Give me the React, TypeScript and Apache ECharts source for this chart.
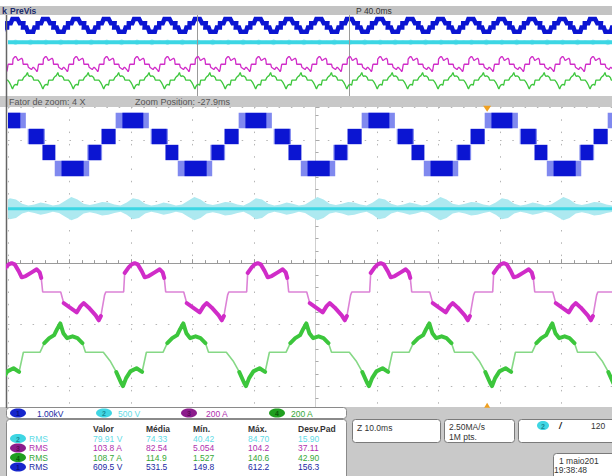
import React, { useEffect, useRef } from "react";
import * as echarts from "echarts";

// ---------- time / division geometry (ms, divisions) ----------
const PERIOD = 20; // ms, 50 Hz fundamental
const MAIN_X = [-50, 48.2];
const PREV_X = [-174.3, 223.1];
const MAIN_Y = [-2.34, 2.54];
const PREV_Y = [-2.43, 2.57];
const ZOOM_WINDOW = [-50, 50];
const TRIGGER_T = 27.9;

// ---------- channel 1 (blue) staircase, one period ----------
const BLUE_PHASE = 10.3; // time of a top plateau centre
const BLUE_LEVELS = [2.32, 2.06, 1.8, 1.54];
// [start ms, end ms, level index] relative to the top centre
const BLUE_DARK = [
  [-1.7, 1.7, 0],
  [3.1, 5.5, 1],
  [5.3, 7.4, 2],
  [8.4, 12.0, 3],
  [12.8, 14.8, 2],
  [14.9, 17.2, 1],
];
const BLUE_LIGHT = [
  [-2.8, 2.6, 0],
  [2.9, 5.7, 1],
  [12.6, 15.0, 2],
  [7.3, 12.9, 3],
];

// ---------- channel 2 (cyan) ----------
const CYAN_PHASE = 10.3;
const CYAN_BASE = 0.886;
// envelope half-height (div) at 1 ms steps over one period
const CYAN_ENV = [0.17, 0.15, 0.08, 0.05, 0.07, 0.1, 0.08, 0.05, 0.07, 0.13, 0.19, 0.15, 0.08, 0.06, 0.08, 0.11, 0.1, 0.07, 0.05, 0.1];

// ---------- channel 3 (magenta), one period relative to its peak: [ms, div, noisy] ----------
const MAGENTA_PHASE = 10.6;
const MAGENTA_SHAPE = [
  [-1.63, -0.16, 1], [-0.98, -0.07, 1], [-0.49, -0.02, 1], [0, 0, 1], [0.49, -0.02, 1], [1.14, -0.13, 1],
  [1.63, -0.23, 1], [2.28, -0.21, 1], [3.25, -0.15, 1], [4.07, -0.1, 1], [4.55, -0.15, 1], [4.8, -0.24, 1],
  [5.04, -0.47, 0], [7.97, -0.47, 0], [8.46, -0.65, 1], [9.6, -0.73, 1], [10.57, -0.8, 1], [11.2, -0.7, 1],
  [11.7, -0.65, 1], [12.5, -0.72, 1], [13.66, -0.85, 1], [14.15, -0.93, 1], [14.5, -0.86, 1], [15.1, -0.52, 0],
  [15.3, -0.47, 0], [18.2, -0.47, 0],
];

// ---------- channel 4 (green), one period relative to its peak: [ms, div, noisy] ----------
const GREEN_PHASE = 18.5;
const GREEN_SHAPE = [
  [0, -0.98, 1], [0.5, -1.14, 1], [1.1, -1.22, 1], [2.0, -1.19, 1], [2.8, -1.22, 1], [3.6, -1.3, 1],
  [4.1, -1.45, 0], [7.0, -1.45, 0], [8.1, -1.59, 0], [9.1, -1.77, 1], [9.9, -1.95, 1], [10.2, -2.0, 1],
  [10.7, -1.87, 1], [11.4, -1.76, 1], [12.4, -1.71, 1], [13.3, -1.77, 1], [14.0, -1.45, 0], [16.7, -1.45, 0],
  [17.4, -1.3, 1], [18.2, -1.22, 1], [19.0, -1.17, 1], [19.5, -1.07, 1],
];

// ---------- texts ----------
const CH_BADGES = ["1", "2", "3", "4"];
const CH_SCALES = ["1.00kV", "500 V", "200 A", "200 A"];
const TABLE_HEAD = ["Valor", "Média", "Mín.", "Máx.", "Desv.Pad"];
const ROW_CH = [1, 2, 3, 0]; // index into channel colours
const ROW_LABEL = ["RMS", "RMS", "RMS", "RMS"];
const ROW_VALUES = [
  ["79.91 V", "74.33", "40.42", "84.70", "15.90"],
  ["103.8 A", "82.54", "5.054", "104.2", "37.11"],
  ["108.7 A", "114.9", "1.527", "140.6", "42.90"],
  ["609.5 V", "531.5", "149.8", "612.2", "156.3"],
];
const TIMEBASE = "Z 10.0ms";
const SAMPLE_RATE = ["2.50MA/s", "1M pts."];
const TRIG_LEVEL = "120";
const DATE_LINES = ["1 maio201", "19:38:48"];

const C_BLUE = "#0b15d2";
const C_BLUE_L = "#8089ef";
const C_CYAN = "#3cd6e4";
const C_CYAN_BAND = "#ade9f0";
const C_MAG = "#d02cc8";
const C_MAG_THIN = "#dc82d6";
const C_GREEN = "#3cc63c";
const C_GREEN_THIN = "#86d886";
const CH_FILL = ["#1626cc", "#3fd6e3", "#8c1c8c", "#1f9e1f"];
const CH_TEXT = ["#1b2aa3", "#5fdbe6", "#b02fae", "#36a836"];
const CH_BADGE_TXT = ["#0a1280", "#188a94", "#5a0a5a", "#0a5a0a"];

function periods(phase: number, range: number[]) {
  const k0 = Math.floor((range[0] - phase) / PERIOD) - 1;
  const k1 = Math.ceil((range[1] - phase) / PERIOD) + 1;
  const out: number[] = [];
  for (let k = k0; k <= k1; k++) out.push(phase + k * PERIOD);
  return out;
}
function tileShape(shape: number[][], phase: number, range: number[]) {
  const out: number[][] = [];
  for (const o of periods(phase, range)) for (const p of shape) out.push([o + p[0], p[1]]);
  return out;
}
function tileNoisy(shape: number[][], phase: number, range: number[]) {
  const out: any[] = [];
  for (const o of periods(phase, range))
    for (const p of shape) out.push(p[2] ? [o + p[0], p[1]] : [o + p[0], "-"]);
  return out;
}
function tileBlocks(blocks: number[][], range: number[]) {
  const out: number[][] = [];
  for (const o of periods(BLUE_PHASE, range))
    for (const b of blocks) out.push([o + b[0], o + b[1], BLUE_LEVELS[b[2]]]);
  return out;
}
function tileBlockLine(range: number[]) {
  const out: number[][] = [];
  for (const o of periods(BLUE_PHASE, range))
    for (const b of BLUE_DARK) {
      out.push([o + b[0], BLUE_LEVELS[b[2]]]);
      out.push([o + b[1], BLUE_LEVELS[b[2]]]);
    }
  return out;
}
function tileEnv(range: number[]) {
  const out: number[][] = [];
  for (const o of periods(CYAN_PHASE, range)) CYAN_ENV.forEach((a, i) => out.push([o + i, a]));
  return out;
}

const blockRender = (half: number) => (_p: any, api: any) => {
  const a = api.coord([api.value(0), api.value(2) + half]);
  const b = api.coord([api.value(1), api.value(2) - half]);
  return {
    type: "rect",
    shape: { x: a[0], y: a[1], width: b[0] - a[0], height: b[1] - a[1] },
    style: { fill: api.visual("color") },
  };
};
const bandRender = (env: number[][]) => (_p: any, api: any) => {
  const up = env.map((e) => api.coord([e[0], CYAN_BASE + e[1]]));
  const dn = env.slice().reverse().map((e) => api.coord([e[0], CYAN_BASE - e[1]]));
  return { type: "polygon", shape: { points: up.concat(dn) }, style: { fill: C_CYAN_BAND } };
};

const lineBase = (idx: number) => ({
  type: "line", xAxisIndex: idx, yAxisIndex: idx, showSymbol: false, silent: true, connectNulls: false,
});

function previewSeries() {
  const r = PREV_X;
  return [
    { ...lineBase(0), data: tileBlockLine(r), lineStyle: { color: C_BLUE, width: 4.5, join: "miter" }, z: 4 },
    {
      type: "custom", xAxisIndex: 0, yAxisIndex: 0, clip: true, silent: true,
      data: [[0, CYAN_BASE]], renderItem: bandRender(tileEnv(r)), z: 3,
    },
    {
      ...lineBase(0), data: [[r[0], CYAN_BASE], [r[1], CYAN_BASE]],
      lineStyle: { color: C_CYAN, width: 4 }, z: 4,
      markLine: {
        silent: true, symbol: "none", label: { show: false },
        lineStyle: { color: "#9a9a9a", type: "solid", width: 1 },
        data: ZOOM_WINDOW.map((t) => ({ xAxis: t })),
      },
    },
    { ...lineBase(0), data: tileShape(MAGENTA_SHAPE, MAGENTA_PHASE, r), lineStyle: { color: C_MAG, width: 1.3 }, z: 5 },
    { ...lineBase(0), data: tileShape(GREEN_SHAPE, GREEN_PHASE, r), lineStyle: { color: C_GREEN, width: 1.3 }, z: 5 },
  ];
}

function mainSeries() {
  const r = MAIN_X;
  return [
    {
      type: "custom", xAxisIndex: 1, yAxisIndex: 1, clip: true, silent: true,
      itemStyle: { color: C_BLUE_L }, encode: { x: [0, 1], y: 2 },
      data: tileBlocks(BLUE_LIGHT, r), renderItem: blockRender(0.125), z: 3,
    },
    {
      type: "custom", xAxisIndex: 1, yAxisIndex: 1, clip: true, silent: true,
      itemStyle: { color: C_BLUE }, encode: { x: [0, 1], y: 2 },
      data: tileBlocks(BLUE_DARK, r), renderItem: blockRender(0.125), z: 4,
    },
    {
      type: "custom", xAxisIndex: 1, yAxisIndex: 1, clip: true, silent: true,
      data: [[0, CYAN_BASE]], renderItem: bandRender(tileEnv(r)), z: 3,
    },
    {
      ...lineBase(1), data: [[r[0], CYAN_BASE], [r[1], CYAN_BASE]],
      lineStyle: { color: C_CYAN, width: 3 }, z: 4,
      markPoint: {
        silent: true, label: { show: false },
        data: [
          { coord: [TRIGGER_T, MAIN_Y[1] - 0.03], symbol: "triangle", symbolRotate: 180, symbolSize: [8, 6], itemStyle: { color: "#f0a020" } },
          { coord: [TRIGGER_T, MAIN_Y[0] + 0.03], symbol: "triangle", symbolSize: [6, 5], itemStyle: { color: "#f0a020" } },
        ],
      },
    },
    { ...lineBase(1), data: tileShape(MAGENTA_SHAPE, MAGENTA_PHASE, r), lineStyle: { color: C_MAG_THIN, width: 1.6 }, z: 5 },
    { ...lineBase(1), data: tileNoisy(MAGENTA_SHAPE, MAGENTA_PHASE, r), lineStyle: { color: C_MAG, width: 4, join: "round", cap: "round" }, z: 6 },
    { ...lineBase(1), data: tileShape(GREEN_SHAPE, GREEN_PHASE, r), lineStyle: { color: C_GREEN_THIN, width: 1.6 }, z: 5 },
    { ...lineBase(1), data: tileNoisy(GREEN_SHAPE, GREEN_PHASE, r), lineStyle: { color: C_GREEN, width: 4, join: "round", cap: "round" }, z: 6 },
  ];
}

function buildGraphics() {
  const g: any[] = [];
  const F = '"Liberation Sans", "DejaVu Sans", sans-serif';
  const rect = (x: number, y: number, w: number, h: number, fill: string, stroke?: string, r = 0, z = 1) =>
    g.push({ type: "rect", z, shape: { x, y, width: w, height: h, r }, style: { fill, stroke: stroke || "none", lineWidth: stroke ? 1 : 0 } });
  const text = (s: string, x: number, y: number, fill: string, size = 8, weight = "normal", align = "left", z = 10) =>
    g.push({ type: "text", z, style: { text: s, x, y, fill, font: `${weight} ${size}px ${F}`, textAlign: align, textVerticalAlign: "middle" } });
  const badge = (cx: number, cy: number, ch: number) => {
    g.push({ type: "ellipse", z: 9, shape: { cx, cy, rx: 8, ry: 4.6 }, style: { fill: CH_FILL[ch] } });
    text(CH_BADGES[ch], cx, cy + 0.5, CH_BADGE_TXT[ch], 7, "bold", "center");
  };

  // header
  rect(0, 6, 612, 9, "#c3c3c3");
  text("k", 2, 10.5, "#1b2b6b", 9, "bold");
  text("PreVis", 10, 10.5, "#1b2b6b", 8.5, "bold");
  text("P 40.0ms", 356, 10.5, "#333333", 8.5);
  // separator between preview and zoom
  rect(0, 96, 612, 11, "#c8c8c8");
  text("Fator de zoom: 4 X", 9, 101.5, "#555555", 9);
  text("Zoom Position: -27.9ms", 135, 101.5, "#555555", 9);
  // left frame line
  g.push({ type: "line", z: 6, shape: { x1: 6.5, y1: 15, x2: 6.5, y2: 408 }, style: { stroke: "#666", lineWidth: 1.5 } });

  // bottom panel
  rect(0, 407, 612, 69, "#c9c9c9");
  rect(6.5, 407.5, 340, 11, "#ffffff", "#8a8a8a", 3, 2);
  const chX = [18, 104, 189, 277];
  const chTx = [37, 118, 206, 291];
  chX.forEach((x, i) => {
    badge(x, 413, i);
    text(CH_SCALES[i], chTx[i], 413.5, CH_TEXT[i], 8.5);
  });
  rect(6.5, 419.5, 340, 60, "#ffffff", "#8a8a8a", 3, 2);
  const colX = [93, 146, 193, 248, 298];
  TABLE_HEAD.forEach((h, i) => text(h, colX[i], 428.5, "#333333", 8.5, "bold"));
  const rowY = [438.5, 448, 457.5, 467];
  ROW_VALUES.forEach((row, r) => {
    const ch = ROW_CH[r];
    badge(18, rowY[r], ch);
    text(ROW_LABEL[r], 29, rowY[r], CH_TEXT[ch], 8.5);
    row.forEach((v, i) => text(v, colX[i], rowY[r], CH_TEXT[ch], 8.5));
  });

  // acquisition boxes
  rect(352.5, 419.5, 88, 23, "#ffffff", "#7a7a7a", 3, 2);
  text(TIMEBASE, 357, 427.5, "#333333", 8.5);
  rect(444.5, 419.5, 70, 23, "#ffffff", "#7a7a7a", 3, 2);
  text(SAMPLE_RATE[0], 449, 426.5, "#333333", 8.5);
  text(SAMPLE_RATE[1], 449, 436.5, "#333333", 8.5);
  rect(518.5, 419.5, 100, 23, "#ffffff", "#7a7a7a", 3, 2);
  g.push({ type: "ellipse", z: 9, shape: { cx: 543, cy: 425.5, rx: 6, ry: 4.5 }, style: { fill: CH_FILL[1] } });
  text("2", 543, 426, CH_BADGE_TXT[1], 7, "bold", "center");
  text("/", 559, 426, "#222222", 9, "bold italic");
  text(TRIG_LEVEL, 591, 426, "#333333", 8.5);
  rect(553.5, 453.5, 62, 26, "#ffffff", "#7a7a7a", 3, 2);
  text(DATE_LINES[0], 559, 460.5, "#333333", 8.5);
  text(DATE_LINES[1], 554, 470, "#333333", 8.5);
  return g;
}

export default function App() {
  const ref = useRef<HTMLDivElement>(null);
  useEffect(() => {
    if (!ref.current) return;
    const chart = echarts.init(ref.current, undefined, { renderer: "svg" });
    const dotted = { color: "#b5b5b5", width: 1, type: [1.5, 10.8] as any };
    chart.setOption({
      animation: false,
      backgroundColor: "#ffffff",
      grid: [
        { left: 8, top: 15, width: 604, height: 81 },
        { left: 8, top: 107, width: 604, height: 300 },
      ],
      xAxis: [
        { gridIndex: 0, type: "value", min: PREV_X[0], max: PREV_X[1], show: false },
        {
          gridIndex: 1, type: "value", min: MAIN_X[0], max: MAIN_X[1], interval: 10,
          axisLine: { show: true, onZero: true, lineStyle: { color: "#9a9a9a", width: 1 } },
          axisTick: { show: true, inside: true, length: 4, lineStyle: { color: "#9a9a9a" } },
          minorTick: { show: true, splitNumber: 5, length: 3, lineStyle: { color: "#9a9a9a" } },
          axisLabel: { show: false },
          splitLine: { show: true, lineStyle: dotted },
        },
      ],
      yAxis: [
        { gridIndex: 0, type: "value", min: PREV_Y[0], max: PREV_Y[1], show: false },
        {
          gridIndex: 1, type: "value", min: MAIN_Y[0], max: MAIN_Y[1], splitNumber: 5,
          axisLine: { show: true, onZero: true, lineStyle: { color: "#cfcfcf", width: 1 } },
          axisTick: { show: true, inside: true, length: 4, lineStyle: { color: "#aaaaaa" } },
          minorTick: { show: true, splitNumber: 5, length: 3, lineStyle: { color: "#aaaaaa" } },
          axisLabel: { show: false },
          splitLine: { show: true, lineStyle: dotted },
        },
      ],
      series: [...previewSeries(), ...mainSeries()],
      graphic: { elements: buildGraphics() },
    });
    return () => chart.dispose();
  }, []);
  return <div ref={ref} style={{ position: "fixed", left: 0, top: 0, width: 612, height: 476 }} />;
}
